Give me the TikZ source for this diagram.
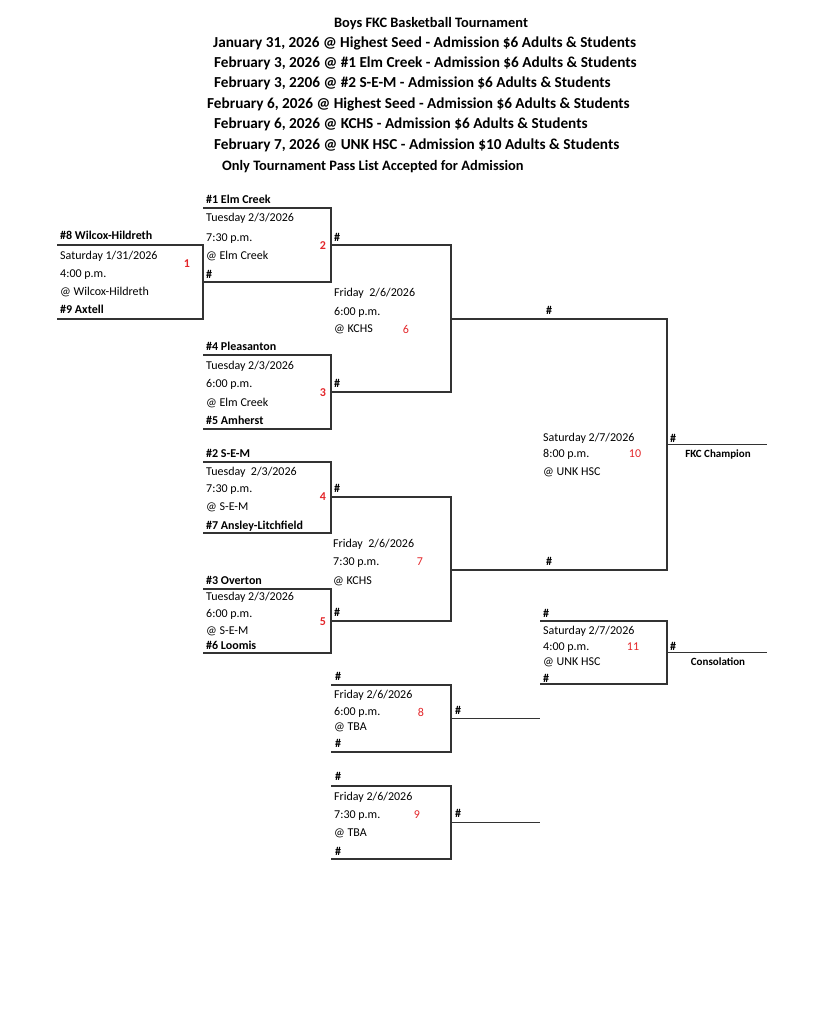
\documentclass[tikz,border=0pt]{standalone}
\usepackage{fontspec}
\setmainfont{Carlito}
\usetikzlibrary{positioning}
\definecolor{seedred}{HTML}{E3262A}
\definecolor{linegray}{HTML}{333333}
\tikzset{
  game/.style n args={2}{rectangle, inner sep=0pt, outer sep=0pt,
    minimum width=#1, minimum height=#2},
  bline/.style={draw=linegray, line width=1.1pt},
  info/.style={anchor=west, inner sep=0pt, text height=8.5pt, text depth=2.5pt,
    font=\fontsize{12}{14}\selectfont},
  team/.style={info, font=\fontsize{12}{14}\selectfont\bfseries},
  hashmark/.style={info, font=\fontsize{12}{14}\selectfont\bfseries},
  gamenum/.style={inner sep=0pt, text=seedred, font=\fontsize{12}{14}\selectfont#1},
  gamenum/.default=\bfseries,
  award/.style={inner sep=0pt, font=\fontsize{11}{13}\selectfont\bfseries},
  headtitle/.style={inner sep=0pt, font=\fontsize{14.4}{17}\selectfont\bfseries},
  headline/.style={anchor=west, inner sep=0pt, font=\fontsize{15.25}{18}\selectfont\bfseries},
}

\begin{document}
\begin{tikzpicture}[x={(1pt,0pt)}, y={(0pt,-1pt)}]
  \useasboundingbox (0,0) rectangle (836,1024);

  % heading
  \node[headtitle] (title) at (431,24) {Boys FKC Basketball Tournament};
  \node[headline] (h1) at (213,43) {January 31, 2026 @ Highest Seed - Admission \$6 Adults \& Students};
  \node[headline] (h2) at (214,63) {February 3, 2026 @ \#1 Elm Creek - Admission \$6 Adults \& Students};
  \node[headline] (h3) at (214,83) {February 3, 2206 @ \#2 S-E-M - Admission \$6 Adults \& Students};
  \node[headline] (h4) at (207,104) {February 6, 2026 @ Highest Seed - Admission \$6 Adults \& Students};
  \node[headline] (h5) at (214,124) {February 6, 2026 @ KCHS - Admission \$6 Adults \& Students};
  \node[headline] (h6) at (214,145) {February 7, 2026 @ UNK HSC - Admission \$10 Adults \& Students};
  \node[headtitle, anchor=west] (h7) at (222,167) {Only Tournament Pass List Accepted for Admission};

  % game boxes
  \node[game={146}{74}] (g1) at (130,282) {};
  \node[game={128}{74}] (g2) at (267,245) {};
  \node[game={128}{74}] (g3) at (267,392) {};
  \node[game={128}{71}] (g4) at (267,497.5) {};
  \node[game={128}{64}] (g5) at (267,621) {};
  \node[game={120}{147}] (g6) at (391,318.5) {};
  \node[game={120}{124}] (g7) at (391,559) {};
  \node[game={120}{67}] (g8) at (391,718.5) {};
  \node[game={120}{73}] (g9) at (391,822.5) {};
  \node[game={216}{251}] (g10) at (559,444.5) {};
  \node[game={127}{63}] (g11) at (603.5,652.5) {};
  \foreach \g in {1,...,11}
    \draw[bline] (g\g.north west) -- (g\g.north east) -- (g\g.south east) -- (g\g.south west);

  \coordinate (champ) at ([xshift=100pt]g10.east);
  \coordinate (consol) at ([xshift=100pt]g11.east);
  \coordinate (w8) at ([xshift=89pt]g8.east);
  \coordinate (w9) at ([xshift=89pt]g9.east);
  \draw[bline] (g10.east) -- (champ);
  \draw[bline] (g11.east) -- (consol);
  \draw[bline] (g8.east) -- (w8);
  \draw[bline] (g9.east) -- (w9);

  % game 1
  \node[team] (t8) at (60,237) {\#8 Wilcox-Hildreth};
  \node[info] (g1-day) at (60,256) {Saturday 1/31/2026};
  \node[info] (g1-time) at (60,274) {4:00 p.m.};
  \node[info] (g1-site) at (60,292) {@ Wilcox-Hildreth};
  \node[team] (t9) at (60,310) {\#9 Axtell};
  \node[gamenum] (n1) at (187,264) {1};

  % game 2
  \node[team] (t1) at (206,201) {\#1 Elm Creek};
  \node[info] (g2-day) at (206,219) {Tuesday 2/3/2026};
  \node[info] (g2-time) at (206,238) {7:30 p.m.};
  \node[info] (g2-site) at (206,256) {@ Elm Creek};
  \node[hashmark] (g2-low) at (206,275) {\#};
  \node[gamenum] (n2) at (323,246) {2};

  % game 3
  \node[team] (t4) at (206,347) {\#4 Pleasanton};
  \node[info] (g3-day) at (206,366) {Tuesday 2/3/2026};
  \node[info] (g3-time) at (206,384) {6:00 p.m.};
  \node[info] (g3-site) at (206,403) {@ Elm Creek};
  \node[team] (t5) at (206,421) {\#5 Amherst};
  \node[gamenum] (n3) at (323,393) {3};

  % game 4
  \node[team] (t2) at (206,454) {\#2 S-E-M};
  \node[info] (g4-day) at (206,472) {Tuesday\ \ 2/3/2026};
  \node[info] (g4-time) at (206,489) {7:30 p.m.};
  \node[info] (g4-site) at (206,507) {@ S-E-M};
  \node[team] (t7) at (206,526) {\#7 Ansley-Litchfield};
  \node[gamenum] (n4) at (323,497) {4};

  % game 5
  \node[team] (t3) at (206,581) {\#3 Overton};
  \node[info] (g5-day) at (206,597) {Tuesday 2/3/2026};
  \node[info] (g5-time) at (206,614) {6:00 p.m.};
  \node[info] (g5-site) at (206,631) {@ S-E-M};
  \node[team] (t6) at (206,646) {\#6 Loomis};
  \node[gamenum] (n5) at (323,622) {5};

  % second round
  \node[hashmark] (g6-top) at (334,238) {\#};
  \node[info] (g6-day) at (334,293) {Friday\ \ 2/6/2026};
  \node[info] (g6-time) at (334,312) {6:00 p.m.};
  \node[info] (g6-site) at (334,329) {@ KCHS};
  \node[gamenum=\mdseries] (n6) at (406,329) {6};
  \node[hashmark] (g6-low) at (334,384) {\#};

  \node[hashmark] (g7-top) at (334,489) {\#};
  \node[info] (g7-day) at (333,544) {Friday\ \ 2/6/2026};
  \node[info] (g7-time) at (333,562) {7:30 p.m.};
  \node[info] (g7-site) at (333,581) {@ KCHS};
  \node[gamenum=\mdseries] (n7) at (420,562) {7};
  \node[hashmark] (g7-low) at (334,613) {\#};

  % consolation side
  \node[hashmark] (g8-top) at (335,677) {\#};
  \node[info] (g8-day) at (334,695) {Friday 2/6/2026};
  \node[info] (g8-time) at (334,712) {6:00 p.m.};
  \node[info] (g8-site) at (334,727) {@ TBA};
  \node[hashmark] (g8-low) at (335,744) {\#};
  \node[gamenum=\mdseries] (n8) at (421,712) {8};
  \node[hashmark] (g8-win) at (455,711) {\#};

  \node[hashmark] (g9-top) at (335,777) {\#};
  \node[info] (g9-day) at (334,797) {Friday 2/6/2026};
  \node[info] (g9-time) at (334,815) {7:30 p.m.};
  \node[info] (g9-site) at (334,833) {@ TBA};
  \node[hashmark] (g9-low) at (335,852) {\#};
  \node[gamenum=\mdseries] (n9) at (417,815) {9};
  \node[hashmark] (g9-win) at (455,814) {\#};

  % finals
  \node[hashmark] (g10-top) at (546,311) {\#};
  \node[info] (g10-day) at (543,438) {Saturday 2/7/2026};
  \node[info] (g10-time) at (543,454) {8:00 p.m.};
  \node[info] (g10-site) at (543,472) {@ UNK HSC};
  \node[gamenum=\mdseries] (n10) at (635,454) {10};
  \node[hashmark] (g10-low) at (546,562) {\#};
  \node[hashmark] (g10-win) at (670,439) {\#};
  \node[award] (champion) at (718,455) {FKC Champion};

  \node[hashmark] (g11-top) at (543,614) {\#};
  \node[info] (g11-day) at (543,631) {Saturday 2/7/2026};
  \node[info] (g11-time) at (543,647) {4:00 p.m.};
  \node[info] (g11-site) at (543,662) {@ UNK HSC};
  \node[hashmark] (g11-low) at (543,679) {\#};
  \node[gamenum=\mdseries] (n11) at (633,647) {11};
  \node[hashmark] (g11-win) at (670,647) {\#};
  \node[award] (consolation) at (718,662) {Consolation};
\end{tikzpicture}
\end{document}
